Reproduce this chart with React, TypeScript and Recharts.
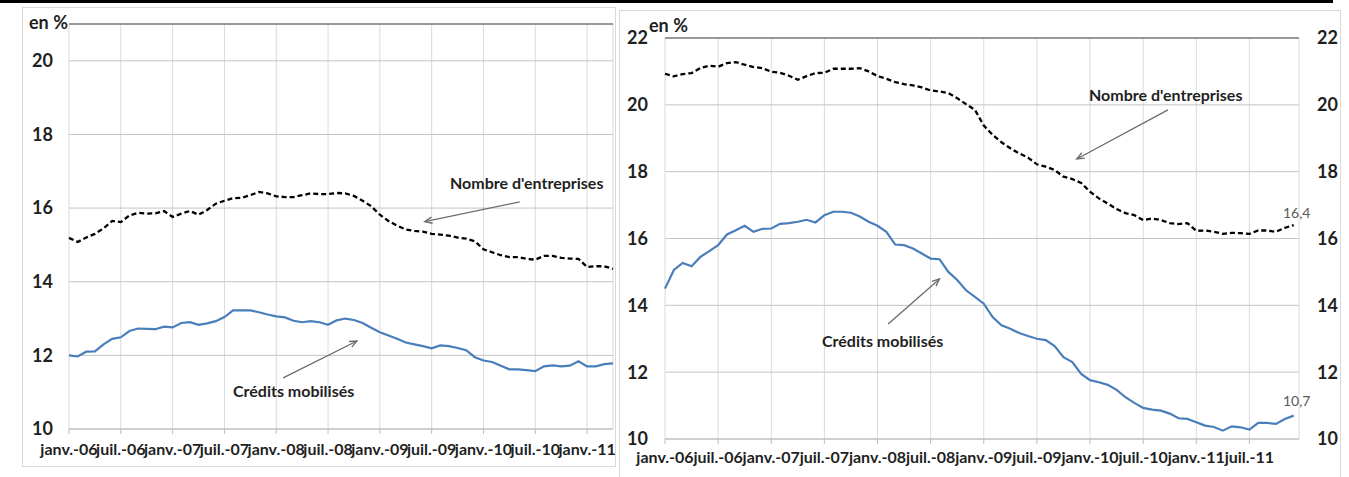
import React from 'react';
import {
  LineChart,
  Line,
  XAxis,
  YAxis,
  CartesianGrid,
  ReferenceLine,
  LabelList,
} from 'recharts';

// Monthly series, janv.-06 onwards (left panel stops in avril-11, right one in déc.-11)
const leftNombre = [
  15.19, 15.08, 15.2, 15.3, 15.45, 15.65, 15.62, 15.8, 15.87, 15.85,
  15.86, 15.92, 15.76, 15.85, 15.92, 15.82, 15.95, 16.12, 16.2, 16.27,
  16.28, 16.35, 16.44, 16.4, 16.32, 16.3, 16.3, 16.35, 16.4, 16.38,
  16.38, 16.41, 16.4, 16.33, 16.2, 16.05, 15.82, 15.65, 15.52, 15.42,
  15.38, 15.36, 15.3, 15.28, 15.25, 15.2, 15.17, 15.1, 14.88, 14.8,
  14.72, 14.67, 14.67, 14.62, 14.6, 14.7, 14.7, 14.65, 14.63, 14.62,
  14.4, 14.42, 14.42, 14.35,
];
const leftCredits = [
  12.0, 11.97, 12.1, 12.11, 12.3, 12.45, 12.49, 12.66, 12.73, 12.72,
  12.71, 12.78, 12.76, 12.88, 12.9, 12.83, 12.87, 12.93, 13.04, 13.22,
  13.22, 13.22, 13.17, 13.11, 13.06, 13.03, 12.94, 12.9, 12.93, 12.9,
  12.83, 12.95, 13.0, 12.96, 12.88, 12.75, 12.63, 12.54, 12.45, 12.35,
  12.3, 12.25, 12.19, 12.27, 12.25, 12.2, 12.14, 11.95, 11.86, 11.82,
  11.72, 11.62, 11.62, 11.6, 11.57, 11.7, 11.73, 11.7, 11.72, 11.84,
  11.7, 11.7, 11.76, 11.78,
];
const rightNombre = [
  20.93, 20.85, 20.92, 20.95, 21.1, 21.17, 21.14, 21.25, 21.28, 21.2,
  21.13, 21.1, 20.99, 20.96, 20.87, 20.75, 20.86, 20.95, 20.96, 21.08,
  21.08, 21.08, 21.1, 21.0, 20.86, 20.78, 20.68, 20.62, 20.58, 20.52,
  20.43, 20.4, 20.35, 20.2, 20.02, 19.85, 19.38, 19.1, 18.88, 18.7,
  18.55, 18.42, 18.22, 18.15, 18.05, 17.85, 17.78, 17.66, 17.4, 17.2,
  17.05, 16.88, 16.76, 16.7, 16.55, 16.6, 16.55, 16.46, 16.43, 16.46,
  16.23, 16.24, 16.2, 16.14, 16.17, 16.16, 16.14, 16.24, 16.24, 16.2,
  16.32, 16.4,
];
const rightCredits = [
  14.5, 15.06, 15.27, 15.17, 15.45, 15.62, 15.8, 16.12, 16.25, 16.38,
  16.2, 16.29, 16.3, 16.44, 16.46, 16.5, 16.56, 16.48, 16.7, 16.8,
  16.8, 16.77, 16.66, 16.5, 16.38, 16.2, 15.82, 15.8, 15.7, 15.55,
  15.4, 15.38, 15.0, 14.76, 14.45, 14.25, 14.05, 13.65, 13.4, 13.3,
  13.17, 13.08, 13.0, 12.96, 12.78, 12.45, 12.3, 11.95, 11.76, 11.7,
  11.62, 11.47, 11.25, 11.08, 10.93, 10.88, 10.85, 10.76, 10.62, 10.6,
  10.5, 10.4, 10.36, 10.25, 10.38, 10.35, 10.28, 10.48, 10.48, 10.45,
  10.6, 10.7,
];

const leftTickLabels = [
  'janv.-06', 'juil.-06', 'janv.-07', 'juil.-07', 'janv.-08', 'juil.-08',
  'janv.-09', 'juil.-09', 'janv.-10', 'juil.-10', 'janv.-11',
];
const rightTickLabels = [
  'janv.-06', 'juil.-06', 'janv.-07', 'juil.-07', 'janv.-08', 'juil.-08',
  'janv.-09', 'juil.-09', 'janv.-10', 'juil.-10', 'janv.-11', 'juil.-11',
];
const leftYTicks = [10, 12, 14, 16, 18, 20];
const rightYTicks = [10, 12, 14, 16, 18, 20, 22];

const FONT = 'Lato, "Open Sans", sans-serif';
const BLUE = '#4A7EBB';
const TEXT = '#1f1f1f';

const leftData = leftNombre.map((v, i) => ({ i, nombre: v, credits: leftCredits[i] }));
const rightData = rightNombre.map((v, i) => ({ i, nombre: v, credits: rightCredits[i] }));

const monthTicks = (labels: string[]) => labels.map((_, k) => k * 6);

// arrow drawn by ReferenceLine segment
const Arrow = (props: any) => {
  const { x1, y1, x2, y2 } = props;
  if ([x1, y1, x2, y2].some((v) => typeof v !== 'number' || isNaN(v))) return null;
  const ang = Math.atan2(y2 - y1, x2 - x1);
  const len = 8;
  const a1 = ang + Math.PI - 0.4;
  const a2 = ang + Math.PI + 0.4;
  return (
    <g>
      <line x1={x1} y1={y1} x2={x2} y2={y2} stroke="#6b6b6b" strokeWidth={1.3} />
      <polyline
        points={`${x2 + len * Math.cos(a1)},${y2 + len * Math.sin(a1)} ${x2},${y2} ${
          x2 + len * Math.cos(a2)
        },${y2 + len * Math.sin(a2)}`}
        fill="none"
        stroke="#6b6b6b"
        strokeWidth={1.3}
      />
    </g>
  );
};

const lastLabel = (count: number, dy: number) => (props: any) => {
  const { x, y, value, index } = props;
  if (index !== count - 1) return null;
  return (
    <text
      x={x + 3}
      y={y + dy}
      textAnchor="middle"
      fontFamily={FONT}
      fontSize={14}
      fill="#595959"
    >
      {Number(value).toFixed(1).replace('.', ',')}
    </text>
  );
};

const yTick = { fontSize: 18, fontWeight: 700, fill: TEXT, fontFamily: FONT };
const xTick = { fontSize: 16, fontWeight: 700, fill: TEXT, fontFamily: FONT };

const annot: React.CSSProperties = {
  fontFamily: FONT,
  fontWeight: 700,
  fill: TEXT,
};

export default function App() {
  return (
    <div
      style={{
        position: 'absolute',
        left: 0,
        top: 0,
        width: 1349,
        height: 477,
        background: '#fff',
        overflow: 'hidden',
      }}
    >
      <div style={{ position: 'absolute', left: 0, top: 0, width: 1333, height: 3, background: '#000' }} />
      <div style={{ position: 'absolute', left: 22, top: 7, width: 592, height: 458, border: '1px solid #d9d9d9' }} />
      <div style={{ position: 'absolute', left: 619, top: 10, width: 720, height: 470, border: '1px solid #d9d9d9' }} />

      {/* left panel */}
      <div style={{ position: 'absolute', left: 0, top: 0 }}>
        <LineChart
          width={620}
          height={477}
          data={leftData}
          margin={{ top: 24, right: 7, left: 20, bottom: 18 }}
        >
          <CartesianGrid horizontal={false} stroke="#dadada" />
          <CartesianGrid vertical={false} stroke="#c4c4c4" />
          <XAxis
            dataKey="i"
            type="number"
            domain={[0, 63]}
            ticks={monthTicks(leftTickLabels)}
            tickFormatter={(v: number) => leftTickLabels[v / 6]}
            interval={0}
            height={30}
            tick={xTick}
            tickSize={5}
            tickMargin={10}
            stroke="#bdbdbd"
          />
          <YAxis
            domain={[10, 21]}
            ticks={leftYTicks}
            interval={0}
            width={49}
            tick={yTick}
            tickLine={false}
            axisLine={false}
            tickSize={6}
            tickMargin={10}
          />
          <ReferenceLine y={21} stroke="#7f7f7f" strokeWidth={1.3} />
          <ReferenceLine
            segment={[{ x: 52.2, y: 16.17 }, { x: 41.2, y: 15.63 }]}
            shape={<Arrow />}
          />
          <ReferenceLine
            segment={[{ x: 24.8, y: 11.39 }, { x: 33.35, y: 12.39 }]}
            shape={<Arrow />}
          />
          <Line
            dataKey="nombre"
            stroke="#000"
            strokeWidth={2.3}
            strokeDasharray="5 3"
            dot={false}
            isAnimationActive={false}
          />
          <Line
            dataKey="credits"
            stroke={BLUE}
            strokeWidth={2.2}
            dot={false}
            isAnimationActive={false}
          />
        </LineChart>
      </div>

      {/* right panel */}
      <div style={{ position: 'absolute', left: 620, top: 0 }}>
        <LineChart
          width={729}
          height={477}
          data={rightData}
          margin={{ top: 38, right: 10, left: 15, bottom: 8 }}
        >
          <CartesianGrid horizontal={false} stroke="#dadada" yAxisId="l" />
          <CartesianGrid vertical={false} stroke="#c4c4c4" yAxisId="l" />
          <XAxis
            dataKey="i"
            type="number"
            domain={[0, 71.6]}
            ticks={monthTicks(rightTickLabels)}
            tickFormatter={(v: number) => rightTickLabels[v / 6]}
            interval={0}
            height={30}
            tick={xTick}
            tickSize={5}
            tickMargin={8}
            stroke="#bdbdbd"
          />
          <YAxis
            yAxisId="l"
            domain={[10, 22]}
            ticks={rightYTicks}
            interval={0}
            width={30}
            tick={yTick}
            tickLine={false}
            axisLine={false}
            tickSize={6}
            tickMargin={11}
          />
          <YAxis
            yAxisId="r"
            orientation="right"
            domain={[10, 22]}
            ticks={rightYTicks}
            interval={0}
            width={40}
            tick={yTick}
            tickLine={false}
            axisLine={false}
            tickSize={6}
            tickMargin={12}
          />
          <ReferenceLine yAxisId="l" y={22} stroke="#7f7f7f" strokeWidth={1.3} />
          <ReferenceLine
            yAxisId="l"
            segment={[{ x: 56.8, y: 19.85 }, { x: 46.5, y: 18.38 }]}
            shape={<Arrow />}
          />
          <ReferenceLine
            yAxisId="l"
            segment={[{ x: 25.2, y: 13.44 }, { x: 31.0, y: 14.79 }]}
            shape={<Arrow />}
          />
          <Line
            yAxisId="r"
            dataKey="nombre"
            stroke="#000"
            strokeWidth={2.3}
            strokeDasharray="5 3"
            dot={false}
            isAnimationActive={false}
          >
            <LabelList dataKey="nombre" content={lastLabel(rightNombre.length, -7)} />
          </Line>
          <Line
            yAxisId="l"
            dataKey="credits"
            stroke={BLUE}
            strokeWidth={2.2}
            dot={false}
            isAnimationActive={false}
          >
            <LabelList dataKey="credits" content={lastLabel(rightCredits.length, -10)} />
          </Line>
        </LineChart>
      </div>

      {/* annotations */}
      <svg
        width={1349}
        height={477}
        style={{ position: 'absolute', left: 0, top: 0, pointerEvents: 'none' }}
      >
        <text x={29} y={29} fontSize={18} style={annot}>en %</text>
        <text x={649} y={32} fontSize={18} style={annot}>en %</text>
        <text x={450} y={189} fontSize={16} style={annot}>Nombre d'entreprises</text>
        <text x={233} y={397} fontSize={16} style={annot}>Crédits mobilisés</text>
        <text x={1089} y={101} fontSize={16} style={annot}>Nombre d'entreprises</text>
        <text x={822} y={347} fontSize={16} style={annot}>Crédits mobilisés</text>
      </svg>
    </div>
  );
}
